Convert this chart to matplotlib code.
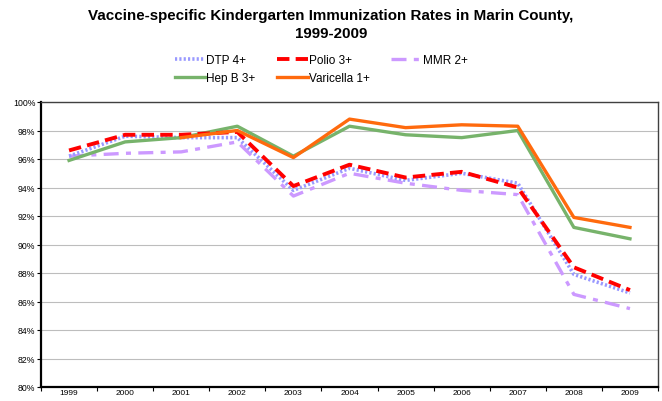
import matplotlib
matplotlib.use("Agg")
import matplotlib.pyplot as plt
from matplotlib.ticker import FixedLocator, FuncFormatter

plt.rcParams['font.family'] = ['Liberation Sans', 'DejaVu Sans']

years = ['1999', '2000', '2001', '2002', '2003', '2004', '2005', '2006', '2007', '2008', '2009']
dtp4 = [96.2, 97.6, 97.5, 97.5, 93.8, 95.35, 94.5, 95.0, 94.3, 87.9, 86.6]
polio3 = [96.6, 97.7, 97.7, 97.9, 94.1, 95.6, 94.7, 95.1, 94.0, 88.4, 86.8]
mmr2 = [96.2, 96.4, 96.5, 97.2, 93.4, 95.0, 94.3, 93.8, 93.5, 86.5, 85.5]
hepb3 = [95.9, 97.2, 97.5, 98.3, 96.2, 98.3, 97.7, 97.5, 98.0, 91.2, 90.4]
varicella1 = [None, None, 97.5, 98.0, 96.1, 98.8, 98.2, 98.4, 98.3, 91.9, 91.2]

fig = plt.figure(figsize=(6.62, 4.02), dpi=100)
ax = fig.add_axes([41/662, 14/402, 617/662, 285/402])

x = list(range(len(years)))
vx = [i for i, v in zip(x, varicella1) if v is not None]
vy = [v for v in varicella1 if v is not None]

l_dtp, = ax.plot(x, dtp4, color='#9999FF', lw=2.6, ls=(0, (0.6, 0.6)), label='DTP 4+', zorder=3)
l_hep, = ax.plot(x, hepb3, color='#77B36B', lw=2.4, label='Hep B 3+', zorder=4)
l_pol, = ax.plot(x, polio3, color='#FF0000', lw=2.8, ls=(0, (3.2, 1.6)), label='Polio 3+', zorder=5)
l_var, = ax.plot(vx, vy, color='#FF6A0D', lw=2.4, label='Varicella 1+', zorder=6)
l_mmr, = ax.plot(x, mmr2, color='#CC99FF', lw=2.4, ls=(0, (4.5, 2.2, 1.5, 2.2)), label='MMR 2+', zorder=2)

ax.set_xlim(-0.5, len(years) - 0.5)
ax.set_ylim(80, 100)
ax.yaxis.set_major_locator(FixedLocator([80 + 2 * i for i in range(11)]))
ax.yaxis.set_major_formatter(FuncFormatter(lambda v, p: f"{v:.0f}%"))
ax.set_xticks(x)
ax.set_xticklabels(years)
ax.set_xticks([i - 0.5 for i in range(len(years) + 1)], minor=True)
ax.tick_params(axis='x', which='major', length=0, pad=1.5, labelsize=6)
ax.tick_params(axis='x', which='minor', length=3, width=0.8, direction='out')
ax.tick_params(axis='y', which='major', length=3, width=0.8, pad=1, labelsize=6.3)

ax.grid(axis='y', color='#BDBDBD', lw=0.8)
ax.set_axisbelow(True)
for s in ['left', 'bottom']:
    ax.spines[s].set_linewidth(1.6)
    ax.spines[s].set_color('black')
for s in ['top', 'right']:
    ax.spines[s].set_linewidth(1.0)
    ax.spines[s].set_color('#404040')

fig.text(0.5, 1 - 16/402, 'Vaccine-specific Kindergarten Immunization Rates in Marin County,',
         ha='center', va='center', fontsize=10.9, fontweight='bold')
fig.text(0.5, 1 - 34/402, '1999-2009', ha='center', va='center', fontsize=10.9, fontweight='bold')

handles = [l_dtp, l_hep, l_pol, l_var, l_mmr]
fig.legend(handles=handles, labels=[h.get_label() for h in handles], ncol=3,
           loc='center', bbox_to_anchor=(0.485, 1 - 70/402), frameon=False,
           fontsize=8.5, handlelength=2.6, handletextpad=0.1, columnspacing=1.8,
           labelspacing=0.5, borderpad=0)

fig.savefig('out.png', dpi=100)
